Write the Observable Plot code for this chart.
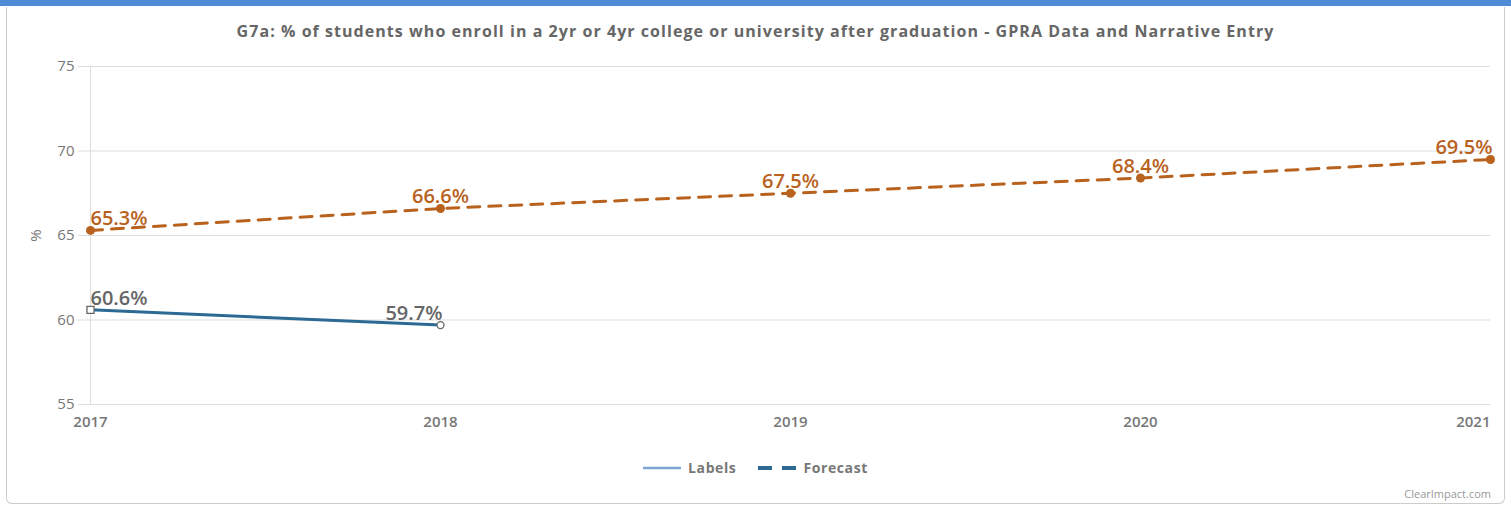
<!DOCTYPE html>
<html><head><meta charset="utf-8">
<script src="https://cdn.jsdelivr.net/npm/d3@7"></script>
<script src="https://cdn.jsdelivr.net/npm/@observablehq/plot@0.6"></script>
<style>
body{margin:0;background:#fff;font-family:"Open Sans",sans-serif;}
#top{position:absolute;left:0;top:0;width:1511px;height:6px;background:#4f8ad6;}
#box{position:absolute;left:6px;top:7px;width:1497px;height:496px;border:1px solid #ccc;border-top:none;border-radius:0 0 6px 6px;}
#title{position:absolute;left:0;top:20px;width:1511px;text-align:center;font-weight:700;font-size:16px;color:#666;letter-spacing:1.05px;}
#chart{position:absolute;left:0;top:46px;}
#legend{position:absolute;top:458px;left:0;width:1511px;display:flex;justify-content:center;gap:22px;font-size:14px;font-weight:700;color:#777;letter-spacing:0.6px;}
#legend span{display:flex;align-items:center;gap:7px;}
#credit{position:absolute;right:20px;top:486px;font-size:11px;color:#999;}
</style></head><body>
<div id="top"></div><div id="box"></div>
<div id="title">G7a: % of students who enroll in a 2yr or 4yr college or university after graduation - GPRA Data and Narrative Entry</div>
<div id="chart"></div>
<div id="legend">
<span><svg width="38" height="6"><line x1="0" y1="3" x2="38" y2="3" stroke="#7fa6cf" stroke-width="2.5"/></svg>Labels</span>
<span><svg width="38" height="6"><line x1="0" y1="3" x2="38" y2="3" stroke="#2c6a94" stroke-width="4" stroke-dasharray="14,10"/></svg>Forecast</span>
</div>
<div id="credit">ClearImpact.com</div>
<script>
const years = [2017, 2018, 2019, 2020, 2021];
const actualYears = [2017, 2018];
const actualValues = [60.6, 59.7];
const forecastValues = [65.3, 66.6, 67.5, 68.4, 69.5];
const yTicks = [55, 60, 65, 70, 75];

const actual = actualYears.map((y, i) => ({year: y, value: actualValues[i], i, n: actualYears.length}));
const forecast = years.map((y, i) => ({year: y, value: forecastValues[i], i, n: years.length}));

const blue = "#2c6a94", orange = "#b9621e", gray = "#666";
const anchorOf = d => d.i === 0 ? "start" : (d.i === d.n - 1 ? "end" : "middle");
const labelMarks = (data, color) => ["start", "middle", "end"].map(a =>
  Plot.text(data.filter(d => anchorOf(d) === a), {
    x: "year", y: "value", text: d => d.value.toFixed(1) + "%",
    textAnchor: a, lineAnchor: "bottom", dy: -5, dx: a === "end" ? 2 : 0,
    fill: color, fontSize: 20, fontWeight: 600, style: "letter-spacing:1px"
  }));

const chart = Plot.plot({
  width: 1511, height: 394,
  marginLeft: 90, marginRight: 21, marginTop: 20, marginBottom: 36,
  style: {fontFamily: "Open Sans, sans-serif", color: gray},
  x: {domain: [2017, 2021]},
  y: {domain: [55, 75]},
  marks: [
    Plot.gridY(yTicks, {stroke: "#ddd", strokeOpacity: 1}),
    Plot.ruleX([2017], {stroke: "#ddd"}),
    Plot.axisY(yTicks, {tickSize: 12, tickPadding: 4, stroke: "#ddd", fill: "#777", fontSize: 15, style: "letter-spacing:0.8px",
      label: "%", labelAnchor: "center", labelArrow: "none", labelOffset: 60}),
    Plot.axisX(years.slice(0, -1), {tickSize: 0, tickPadding: 12, tickFormat: d => String(d), fill: "#777", fontSize: 15, fontWeight: 600, style: "letter-spacing:0.8px", label: null}),
    Plot.axisX(years.slice(-1), {tickSize: 0, tickPadding: 12, tickFormat: d => String(d), fill: "#777", fontSize: 15, fontWeight: 600, style: "letter-spacing:0.8px", textAnchor: "end", label: null}),
    Plot.line(forecast, {x: "year", y: "value", stroke: orange, strokeWidth: 3, strokeDasharray: "12,9"}),
    Plot.dot(forecast, {x: "year", y: "value", fill: orange, r: 4.5}),
    Plot.line(actual, {x: "year", y: "value", stroke: blue, strokeWidth: 3}),
    Plot.dot(actual.slice(0, 1), {x: "year", y: "value", symbol: "square", r: 4, fill: "#fff", stroke: gray, strokeWidth: 1.3}),
    Plot.dot(actual.slice(1), {x: "year", y: "value", r: 3.5, fill: "#fff", stroke: gray, strokeWidth: 1.3}),
    ...labelMarks(actual, gray),
    ...labelMarks(forecast, orange)
  ]
});
document.getElementById("chart").append(chart);
</script>
</body></html>
